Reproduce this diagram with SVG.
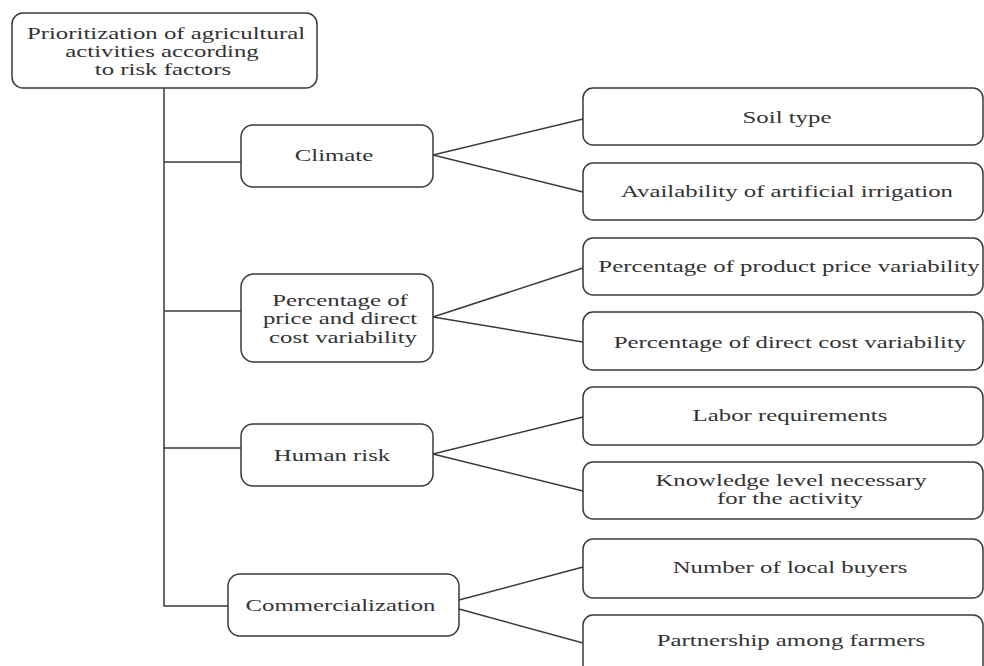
<svg xmlns="http://www.w3.org/2000/svg" width="984" height="666" viewBox="0 0 984 666">
<style>
.box{fill:#fff;stroke:#3a3a3a;stroke-width:1.5}
.con{fill:none;stroke:#3a3a3a;stroke-width:1.5}
.t{font-family:"Liberation Serif","Times New Roman",serif;font-size:16px;fill:#333;text-anchor:middle}
</style>
<rect width="984" height="666" fill="#fff"/>
<g id="connectors">
<path class="con" d="M164,88 V606 H228"/>
<path class="con" d="M164,162 H241"/>
<path class="con" d="M164,311 H241"/>
<path class="con" d="M164,448 H241"/>
<path class="con" d="M583,119 L433,155 L583,192"/>
<path class="con" d="M583,268 L433,317 L583,342"/>
<path class="con" d="M583,417 L433,454 L583,491"/>
<path class="con" d="M583,567 L459,600"/>
<path class="con" d="M459,609 L583,643"/>
</g>
<g id="root">
<rect class="box" x="12" y="13" width="305" height="75" rx="11"/>
<text class="t" transform="translate(166,38.5) scale(1.55,1)">Prioritization of agricultural</text>
<text class="t" transform="translate(162,56.5) scale(1.55,1)">activities according</text>
<text class="t" transform="translate(163,74.5) scale(1.55,1)">to risk factors</text>
</g>
<g id="climate">
<rect class="box" x="241" y="125" width="192" height="62" rx="12"/>
<text class="t" transform="translate(334,161) scale(1.55,1)">Climate</text>
</g>
<g id="price">
<rect class="box" x="241" y="274" width="192" height="88" rx="13"/>
<text class="t" transform="translate(340,305.5) scale(1.55,1)">Percentage of</text>
<text class="t" transform="translate(340,324) scale(1.55,1)">price and direct</text>
<text class="t" transform="translate(343,342.5) scale(1.55,1)">cost variability</text>
</g>
<g id="human">
<rect class="box" x="241" y="424" width="192" height="62" rx="12"/>
<text class="t" transform="translate(332,461) scale(1.55,1)">Human risk</text>
</g>
<g id="commercial">
<rect class="box" x="228" y="574" width="231" height="62" rx="12"/>
<text class="t" transform="translate(340.5,611) scale(1.55,1)">Commercialization</text>
</g>
<g id="soil">
<rect class="box" x="583" y="88" width="400" height="57" rx="10"/>
<text class="t" transform="translate(787,123) scale(1.55,1)">Soil type</text>
</g>
<g id="irrigation">
<rect class="box" x="583" y="163" width="400" height="57" rx="10"/>
<text class="t" transform="translate(787,196.5) scale(1.55,1)">Availability of artificial irrigation</text>
</g>
<g id="product-price">
<rect class="box" x="583" y="238" width="400" height="57" rx="10"/>
<text class="t" transform="translate(789,271.5) scale(1.55,1)">Percentage of product price variability</text>
</g>
<g id="direct-cost">
<rect class="box" x="583" y="312" width="400" height="58" rx="10"/>
<text class="t" transform="translate(790,347.5) scale(1.55,1)">Percentage of direct cost variability</text>
</g>
<g id="labor">
<rect class="box" x="583" y="387" width="400" height="58" rx="10"/>
<text class="t" transform="translate(790,421) scale(1.55,1)">Labor requirements</text>
</g>
<g id="knowledge">
<rect class="box" x="583" y="462" width="400" height="57" rx="10"/>
<text class="t" transform="translate(791,485.5) scale(1.55,1)">Knowledge level necessary</text>
<text class="t" transform="translate(790,503.5) scale(1.55,1)">for the activity</text>
</g>
<g id="buyers">
<rect class="box" x="583" y="539" width="400" height="59" rx="10"/>
<text class="t" transform="translate(790,572.5) scale(1.55,1)">Number of local buyers</text>
</g>
<g id="partnership">
<rect class="box" x="583" y="615" width="400" height="60" rx="10"/>
<text class="t" transform="translate(791,646) scale(1.55,1)">Partnership among farmers</text>
</g>
</svg>
